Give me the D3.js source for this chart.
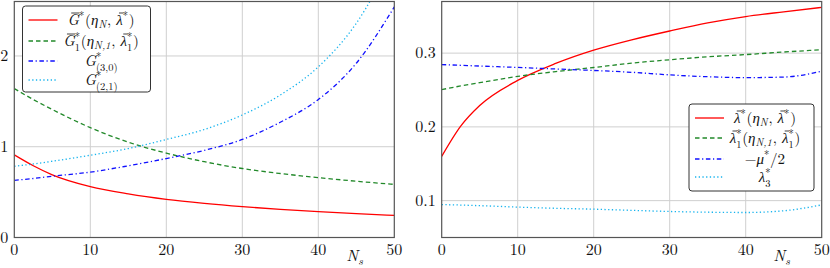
<!DOCTYPE html>
<html>
<head>
<meta charset="utf-8">
<script src="https://cdn.jsdelivr.net/npm/d3@7"></script>
<style>
  html, body { margin: 0; padding: 0; background: #fff; }
  svg { display: block; }
</style>
</head>
<body>
<svg id="chart" width="830" height="268"></svg>
<script>
// sample positions along N_s
const ns = [0, 2.5, 5, 10, 15, 20, 25, 30, 35, 40, 45, 50];
const xTicks = [0, 10, 20, 30, 40, 50];

// left panel
const gBar = [0.91, 0.79, 0.69, 0.56, 0.48, 0.42, 0.376, 0.34, 0.31, 0.284, 0.262, 0.243];
const gBar1 = [1.64, 1.52, 1.41, 1.21, 1.05, 0.93, 0.835, 0.76, 0.705, 0.66, 0.62, 0.585];
const g30 = [0.63, 0.65, 0.675, 0.72, 0.79, 0.87, 0.96, 1.08, 1.27, 1.52, 1.92, 2.54];
const g21 = [0.785, 0.81, 0.84, 0.906, 0.98, 1.08, 1.19, 1.35, 1.57, 1.88, 2.36, 3.1];
const leftYTicks = [0, 1, 2];

// right panel
const lamBar = [0.160, 0.201, 0.229, 0.263, 0.286, 0.304, 0.318, 0.330, 0.341, 0.3496, 0.356, 0.362];
const lamBar1 = [0.2505, 0.2555, 0.260, 0.2685, 0.275, 0.2805, 0.2865, 0.291, 0.295, 0.298, 0.3015, 0.3046];
const muHalf = [0.2845, 0.2835, 0.2825, 0.2806, 0.2785, 0.2765, 0.274, 0.2705, 0.268, 0.2668, 0.2675, 0.2755];
const lam3 = [0.0946, 0.094, 0.0932, 0.0912, 0.0896, 0.0884, 0.0868, 0.0853, 0.0843, 0.0839, 0.0862, 0.0942];
const rightYTicks = [0.1, 0.2, 0.3];

// legend labels as math pieces: i = italic, bar = overline, sup / sub, back = stack under previous superscript
const leftLabels = [
  [{t: "G", i: 1, bar: 1}, {t: "*", sup: 1}, {t: "("}, {t: "η", i: 1}, {t: "N", i: 1, sub: 1}, {t: ", "}, {t: "λ", i: 1, bar: 1}, {t: "*", sup: 1}, {t: ")"}],
  [{t: "G", i: 1, bar: 1}, {t: "*", sup: 1}, {t: "1", sub: 1, back: 1}, {t: "("}, {t: "η", i: 1}, {t: "N,1", i: 1, sub: 1}, {t: ", "}, {t: "λ", i: 1, bar: 1}, {t: "*", sup: 1}, {t: "1", sub: 1, back: 1}, {t: ")"}],
  [{t: "G", i: 1}, {t: "*", sup: 1}, {t: "(3,0)", sub: 1, back: 1}],
  [{t: "G", i: 1}, {t: "*", sup: 1}, {t: "(2,1)", sub: 1, back: 1}]
];
const rightLabels = [
  [{t: "λ", i: 1, bar: 1}, {t: "*", sup: 1}, {t: "("}, {t: "η", i: 1}, {t: "N", i: 1, sub: 1}, {t: ", "}, {t: "λ", i: 1, bar: 1}, {t: "*", sup: 1}, {t: ")"}],
  [{t: "λ", i: 1, bar: 1}, {t: "*", sup: 1}, {t: "1", sub: 1, back: 1}, {t: "("}, {t: "η", i: 1}, {t: "N,1", i: 1, sub: 1}, {t: ", "}, {t: "λ", i: 1, bar: 1}, {t: "*", sup: 1}, {t: "1", sub: 1, back: 1}, {t: ")"}],
  [{t: "−"}, {t: "μ", i: 1}, {t: "*", sup: 1}, {t: "/2"}],
  [{t: "λ", i: 1}, {t: "*", sup: 1}, {t: "3", sub: 1, back: 1}]
];

const styles = [
  {color: "#ff0000", dash: null},
  {color: "#22892a", dash: "4.5,3"},
  {color: "#1010ff", dash: "4.5,2.6,1.2,2.6"},
  {color: "#18b4ee", dash: "1.3,2.4"}
];

const FONT = '"Latin Modern Roman", "CMU Serif", "Liberation Serif", serif';
const svg = d3.select("#chart");

function txt(sel) {
  return sel.style("font-family", FONT).style("white-space", "pre").attr("fill", "#111");
}

// lays out math pieces as tspans of one text, measuring each piece first
function mathText(g, parts, size, cx, baseline) {
  const small = size * 0.7;
  const items = [];
  let x = 0, lastSupW = 0;
  parts.forEach(p => {
    const fs = (p.sup || p.sub) ? small : size;
    const dy = p.sup ? -size * 0.38 : p.sub ? (p.back ? size * 0.32 : size * 0.22) : 0;
    const probe = txt(g.append("text")).attr("font-size", fs)
      .attr("font-style", p.i ? "italic" : "normal").text(p.t);
    const w = probe.node().getComputedTextLength();
    probe.remove();
    let px = x;
    if (p.back) { px = x - lastSupW; x = px + Math.max(w, lastSupW); }
    else x = px + w + (p.sup || p.sub ? 0.8 : 0);
    if (p.sup) lastSupW = w + 0.8;
    items.push({px, w, p, fs, dy});
  });
  const x0 = cx - x / 2;
  const t = txt(g.append("text"));
  items.forEach(({px, w, p, fs, dy}) => {
    t.append("tspan").attr("x", x0 + px).attr("y", baseline + dy)
      .attr("font-size", fs).attr("font-style", p.i ? "italic" : "normal").text(p.t);
    if (p.bar) {
      const sk = p.i ? fs * 0.1 : 0;
      g.append("line")
        .attr("x1", x0 + px + w * 0.2 + sk).attr("x2", x0 + px + w * 0.9 + sk)
        .attr("y1", baseline - fs * 0.8).attr("y2", baseline - fs * 0.8)
        .attr("stroke", "#111").attr("stroke-width", 0.8);
    }
  });
}

function panel(id, xr, yDomain, yTicks, yFmt, series, labels, leg, nsX) {
  const x = d3.scaleLinear().domain([0, 50]).range(xr);
  const y = d3.scaleLinear().domain(yDomain).range([237.5, 1.5]);
  const g = svg.append("g");

  g.append("clipPath").attr("id", id).append("rect")
    .attr("x", xr[0]).attr("y", 1.5).attr("width", xr[1] - xr[0]).attr("height", 236);

  // grid
  g.append("g").selectAll("line").data(xTicks.slice(1, -1)).join("line")
    .attr("x1", d => x(d)).attr("x2", d => x(d)).attr("y1", 1.5).attr("y2", 237.5)
    .attr("stroke", "#cfcfcf").attr("stroke-width", 1);
  g.append("g").selectAll("line").data(yTicks.filter(d => d > yDomain[0])).join("line")
    .attr("x1", xr[0]).attr("x2", xr[1]).attr("y1", d => y(d)).attr("y2", d => y(d))
    .attr("stroke", "#cfcfcf").attr("stroke-width", 1);

  // curves
  const line = d3.line().x((d, i) => x(ns[i])).y(d => y(d)).curve(d3.curveMonotoneX);
  g.append("g").attr("clip-path", `url(#${id})`)
    .selectAll("path").data(series).join("path")
    .attr("d", d => line(d))
    .attr("fill", "none")
    .attr("stroke", (d, i) => styles[i].color)
    .attr("stroke-width", 1.3)
    .attr("stroke-dasharray", (d, i) => styles[i].dash);

  // frame
  g.append("rect").attr("x", xr[0]).attr("y", 1.5)
    .attr("width", xr[1] - xr[0]).attr("height", 236)
    .attr("fill", "none").attr("stroke", "#555").attr("stroke-width", 1.2);

  // ticks
  txt(g.append("g").selectAll("text").data(xTicks).join("text"))
    .attr("x", d => x(d)).attr("y", 255).attr("text-anchor", "middle")
    .attr("font-size", 16).text(d => d);
  txt(g.append("g").selectAll("text").data(yTicks).join("text"))
    .attr("x", xr[0] - 6).attr("y", d => y(d)).attr("dy", "0.33em")
    .attr("text-anchor", "end").attr("font-size", 16).text(yFmt);

  // axis label
  mathText(g.append("g"), [{t: "N", i: 1}, {t: "s", i: 1, sub: 1}], 16, nsX, 261);

  // legend
  const lg = g.append("g");
  lg.append("rect").attr("x", leg.x).attr("y", leg.y).attr("width", leg.w).attr("height", leg.h)
    .attr("rx", 3).attr("fill", "#fff").attr("stroke", "#333").attr("stroke-width", 1);
  labels.forEach((lb, i) => {
    const yy = leg.rows[i];
    lg.append("line").attr("x1", leg.x + 6).attr("x2", leg.x + 35)
      .attr("y1", yy).attr("y2", yy)
      .attr("stroke", styles[i].color).attr("stroke-width", 1.3)
      .attr("stroke-dasharray", styles[i].dash);
    mathText(lg.append("g"), lb, 15, leg.tx, yy + 5);
  });
}

panel("clipL", [14.3, 394.3], [0, 2.6], leftYTicks, d => d,
  [gBar, gBar1, g30, g21], leftLabels,
  {x: 22.5, y: 6, w: 128, h: 86, rows: [20, 41, 61, 80], tx: 101}, 355);

panel("clipR", [441.7, 821.7], [0.05, 0.37], rightYTicks, d => d.toFixed(1),
  [lamBar, lamBar1, muHalf, lam3], rightLabels,
  {x: 689, y: 104, w: 125, h: 87, rows: [118, 138, 159, 177], tx: 765}, 782);
</script>
</body>
</html>
